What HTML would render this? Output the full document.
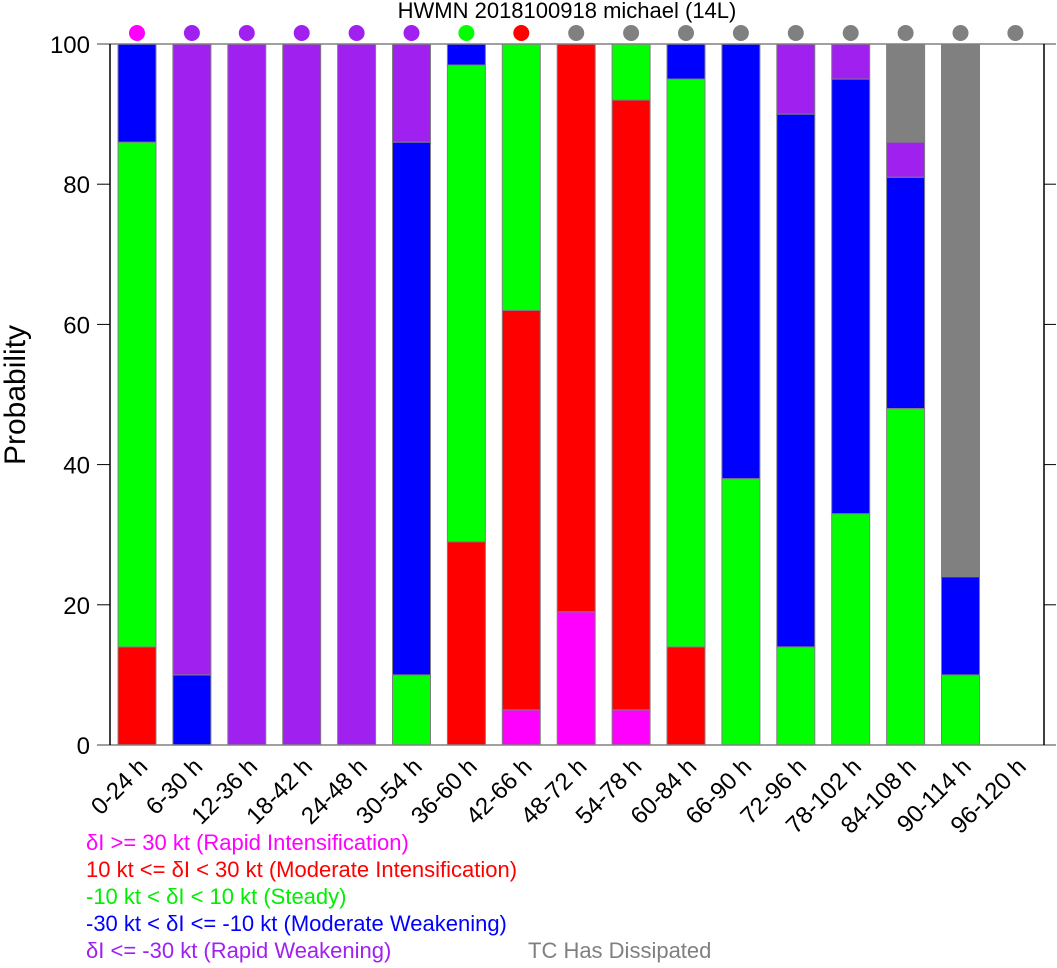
<!DOCTYPE html>
<html><head><meta charset="utf-8"><style>
body{margin:0;background:#fff;}
svg{display:block;font-family:"Liberation Sans",sans-serif;}
</style></head><body>
<svg id="chart" width="1057" height="968" xmlns="http://www.w3.org/2000/svg">
<text x="567" y="18" font-size="22" text-anchor="middle">HWMN 2018100918 michael (14L)</text>
<text transform="translate(25,395) rotate(-90)" font-size="30" text-anchor="middle">Probability</text>
<g id="bars"></g>
<g id="axes"></g>
<g id="legend" font-size="22">
<text x="86" y="850" fill="#ff00ff">δI &gt;= 30 kt (Rapid Intensification)</text>
<text x="86" y="877" fill="#ff0000">10 kt &lt;= δI &lt; 30 kt (Moderate Intensification)</text>
<text x="86" y="904" fill="#00ee00">-10 kt &lt; δI &lt; 10 kt (Steady)</text>
<text x="86" y="931" fill="#0000ff">-30 kt &lt; δI &lt;= -10 kt (Moderate Weakening)</text>
<text x="86" y="958" fill="#a020f0">δI &lt;= -30 kt (Rapid Weakening)</text>
<text x="528" y="958" fill="#808080">TC Has Dissipated</text>
</g>
</svg>
<script>
const categories=["0-24 h","6-30 h","12-36 h","18-42 h","24-48 h","30-54 h","36-60 h","42-66 h","48-72 h","54-78 h","60-84 h","66-90 h","72-96 h","78-102 h","84-108 h","90-114 h","96-120 h"];
const ri=[0,0,0,0,0,0,0,5,19,5,0,0,0,0,0,0,0];
const mi=[14,0,0,0,0,0,29,57,81,87,14,0,0,0,0,0,0];
const steady=[72,0,0,0,0,10,68,38,0,8,81,38,14,33,48,10,0];
const mw=[14,10,0,0,0,76,3,0,0,0,5,62,76,62,33,14,0];
const rw=[0,90,100,100,100,14,0,0,0,0,0,0,10,5,5,0,0];
const dissipated=[0,0,0,0,0,0,0,0,0,0,0,0,0,0,14,76,0];
const dotCat=["ri","rw","rw","rw","rw","rw","steady","mi","dissipated","dissipated","dissipated","dissipated","dissipated","dissipated","dissipated","dissipated","dissipated"];
const yTicks=[0,20,40,60,80,100];
const colors={ri:"#ff00ff",mi:"#ff0000",steady:"#00ff00",mw:"#0000ff",rw:"#a020f0",dissipated:"#808080"};
const series=[["ri",ri],["mi",mi],["steady",steady],["mw",mw],["rw",rw],["dissipated",dissipated]];
const NS="http://www.w3.org/2000/svg";
const y=v=>745-v*7.01;
const xc=i=>137+i*54.9;
const bw=38;
function mk(t,a,p){const e=document.createElementNS(NS,t);for(const k in a)e.setAttribute(k,a[k]);p.appendChild(e);return e;}
const bars=document.getElementById('bars'),axes=document.getElementById('axes');
categories.forEach((c,i)=>{
  let base=0;
  series.forEach(([n,arr])=>{
    const v=arr[i]; if(v<=0) return;
    const r=mk('rect',{x:xc(i)-bw/2,y:y(base+v),width:bw,height:y(base)-y(base+v),fill:colors[n],stroke:"#808080","stroke-width":1},bars);
    
    
    base+=v;
  });
  const d=mk('circle',{cx:xc(i),cy:33,r:8,fill:colors[dotCat[i]]},bars);
  
  
  const t=mk('text',{transform:`translate(${xc(i)+12},${768}) rotate(-45)`,"font-size":24,"text-anchor":"end"},axes);
  t.textContent=c;
  
  
});
[[97,44,1056,44,"#808080"],[97,745,1056,745,"#808080"],[110,44,110,745,"#000"],[1044,44,1044,745,"#000"]].forEach(l=>{
  const e=mk('line',{x1:l[0],y1:l[1],x2:l[2],y2:l[3],stroke:l[4],"stroke-width":1.5},axes);
  
  
});
yTicks.forEach(v=>{
  const t=mk('text',{x:90,y:y(v)+9,"font-size":24,"text-anchor":"end"},axes);
  t.textContent=v;
  
  
  if(v>0&&v<100){
    const a=mk('line',{x1:97,y1:y(v),x2:110,y2:y(v),stroke:"#000"},axes);
    
    
    const b=mk('line',{x1:1044,y1:y(v),x2:1056,y2:y(v),stroke:"#000"},axes);
    
    
  }
});
</script>
</body></html>
